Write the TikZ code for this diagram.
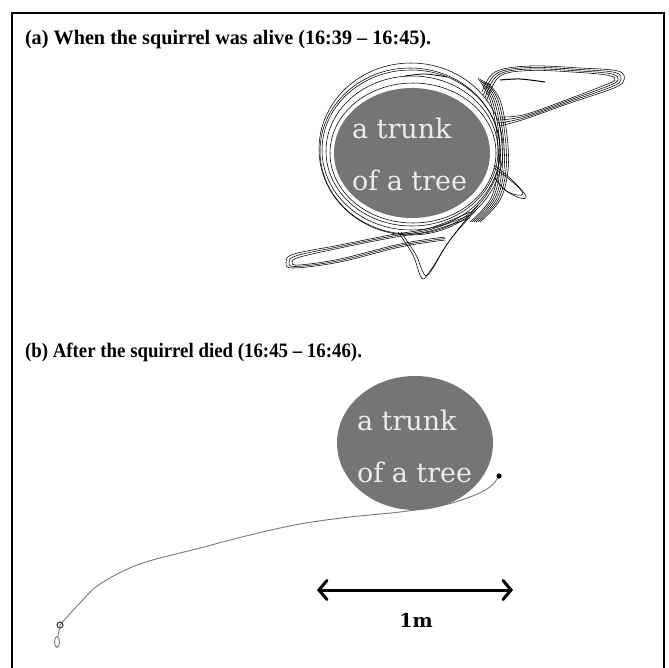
\documentclass[tikz,border=0pt]{standalone}
\usepackage{fontspec}
\setmainfont{Liberation Serif}
\newfontfamily\trunkfont{DejaVu Serif}
\usetikzlibrary{arrows.meta}

\tikzset{
  track/.style={draw=black,line width=0.55pt,line join=round},
  trackB/.style={draw=trackColor,line width=0.9pt,line cap=round},
  trunk/.style={fill=trunkColor,draw=none},
  trunklabel/.style={anchor=west,text=labelColor,font=\trunkfont\fontsize{27}{30}\selectfont,inner sep=0pt,outer sep=0pt},
  caption/.style={anchor=base west,inner sep=0pt,outer sep=0pt,font=\bfseries\fontsize{20.5}{23}\selectfont},
}

\begin{document}
\begin{tikzpicture}[x=1pt,y=-1pt]
\definecolor{fillColor}{RGB}{255,255,255}
\definecolor{trunkColor}{RGB}{117,117,117}
\definecolor{labelColor}{RGB}{236,236,236}
\definecolor{trackColor}{RGB}{120,120,120}
\path[use as bounding box,fill=fillColor] (0,0) rectangle (669,667);

% frame
\path[draw=black,line width=2pt] (12,668) -- (12,13) -- (664,13) -- (664,668);

% panel (a)
\node[caption] (capA) at (25,44) {\scalebox{0.985}[1]{(a) When the squirrel was alive (16:39 -- 16:45).}};

\foreach \cx/\cy/\rx/\ry in {413/153/83/70, 412/151/86/75, 411/150/89/80, 411/149/92/86, 410/151/90/83}
  \path[track] (\cx,\cy) ellipse ({\rx} and {\ry});

% bundle on the right
\foreach \d in {0,2,4,6,8,10}
  \path[track] plot[smooth,tension=0.6] coordinates {({478+\d},{78+\d/2}) ({490+\d},100) ({497+\d},135) ({498+\d},170) ({490+\d},200) ({470+\d},222)};

% upper right hairpin
\foreach \d in {0,3,6,9}
  \path[track] plot[smooth,tension=0.6] coordinates {({482+\d/2},{92+\d}) ({495+\d/2},{72+\d/2}) (530,{66+\d/2}) (580,{68+\d/2}) ({618-\d},{71+\d/2}) ({624-\d},{80}) ({614-\d},{88-\d/3}) (570,{103-\d/2}) (525,{119-\d/2}) ({500},{126-\d})};
\path[track,line width=1pt] plot[smooth] coordinates {(500,80) (520,79) (545,82)};
\path[track,line width=0.8pt] plot[smooth] coordinates {(405,76) (425,74) (447,77)};

% spike to the right
\foreach \d in {0,3}
  \path[track] plot[smooth,tension=0.6] coordinates {({494},{165+\d}) (512,{180+\d/2}) ({526-\d},{196-\d}) ({520-\d},{198-\d}) (505,{190}) ({495},{178})};

% lower left hairpin
\foreach \d in {0,3,6}
  \path[track] plot[smooth,tension=0.6] coordinates {({470},{212+\d}) (430,{228+\d/2}) (390,{235+\d/2}) (340,{245+\d/2}) ({294+\d},{254+\d/2}) ({286+\d},{262}) ({293+\d},{268-\d/2}) (340,{262-\d/2}) (400,{247-\d/2}) (445,{240-\d/2})};

% bottom spike
\foreach \d in {0,3}
  \path[track] plot[smooth,tension=0.6] coordinates {({398+\d},{232}) ({413+\d},{255}) ({421+\d},{277-\d}) ({428+\d},{274-\d}) ({450},{240}) ({478},{205+\d})};

\path[trunk] (412,153) ellipse (78 and 65);
\node[trunklabel] (trunkA1) at (352,128) {a trunk};
\node[trunklabel] (trunkA2) at (352,180) {of a tree};

% panel (b)
\node[caption] (capB) at (25,357) {\scalebox{0.92}[1]{(b) After the squirrel died (16:45 -- 16:46).}};

\path[trunk] (415,443) ellipse (78 and 67);
\node[trunklabel] (trunkB1) at (357,420) {a trunk};
\node[trunklabel] (trunkB2) at (357,472) {of a tree};

\coordinate (start) at (499,476);
\coordinate (knot) at (60,625);
\path[trackB] plot[smooth,tension=0.6] coordinates {(499,476) (490,487) (470,497) (440,506) (400,512) (350,517) (300,524) (250,535) (200,548) (140,564) (100,584) (80,603) (67,617) (60,625)};
\path[fill=black] (start) circle (2.6);
\path[draw=trackColor!60!black,line width=1.2pt] (knot) circle (3);
\path[trackB] (knot) -- (58,636);
\path[trackB] (57,642) ellipse (2.5 and 5.5);

% scale bar
\coordinate (barL) at (317,590);
\coordinate (barR) at (513,590);
\path[draw=black,line width=3pt,line cap=round,{Straight Barb[length=8pt,width=19pt,line cap=round]}-{Straight Barb[length=8pt,width=19pt,line cap=round]}] (barL) -- (barR);
\node[font=\trunkfont\bfseries\fontsize{19}{22}\selectfont,inner sep=0pt] (unit) at (416,620) {1m};
\end{tikzpicture}
\end{document}
